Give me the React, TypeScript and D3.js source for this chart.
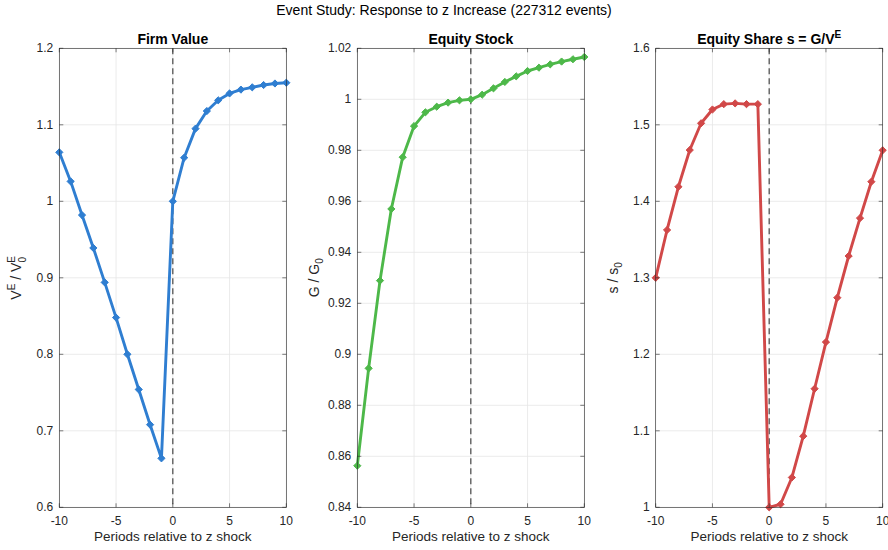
import React from "react";
import * as d3 from "d3";

const periods = d3.range(-10, 11);
const firmValue = [1.064, 1.026, 0.982, 0.939, 0.894, 0.848, 0.800, 0.754, 0.708, 0.664, 1.000, 1.057, 1.095, 1.118, 1.132, 1.141, 1.146, 1.149, 1.152, 1.154, 1.155];
const equityStock = [0.8563, 0.8945, 0.9289, 0.957, 0.9773, 0.9895, 0.9949, 0.9971, 0.9987, 0.9996, 1.000, 1.0018, 1.0043, 1.0068, 1.009, 1.0111, 1.0124, 1.0137, 1.0148, 1.0157, 1.0166];
const equityShare = [1.300, 1.3625, 1.419, 1.467, 1.502, 1.520, 1.527, 1.528, 1.527, 1.527, 1.000, 1.004, 1.039, 1.093, 1.155, 1.216, 1.274, 1.3285, 1.378, 1.4256, 1.4667];

const xTicks = [-10, -5, 0, 5, 10];
const yTicks1 = [0.6, 0.7, 0.8, 0.9, 1, 1.1, 1.2];
const yTicks2 = [0.84, 0.86, 0.88, 0.9, 0.92, 0.94, 0.96, 0.98, 1, 1.02];
const yTicks3 = [1, 1.1, 1.2, 1.3, 1.4, 1.5, 1.6];

const mainTitle = "Event Study: Response to z Increase (227312 events)";
const FONT = "'Liberation Sans', Arial, Helvetica, sans-serif";

type PanelProps = {
  left: number;
  values: number[];
  yDomain: [number, number];
  yTicks: number[];
  color: string;
  title: React.ReactNode;
  ylabel: React.ReactNode;
  fmt: (v: number) => string;
};

const TOP = 48.3;
const BOTTOM = 507.3;
const WIDTH = 227;

function Panel({ left, values, yDomain, yTicks, color, title, ylabel, fmt }: PanelProps) {
  const x = d3.scaleLinear().domain([-10, 10]).range([left, left + WIDTH]);
  const y = d3.scaleLinear().domain(yDomain).range([BOTTOM, TOP]);
  const line = d3.line<number>().x((_, i) => x(periods[i])).y((d) => y(d));
  const axisColor = "#262626";
  const tl = 4;
  return (
    <g>
      <rect x={left} y={TOP} width={WIDTH} height={BOTTOM - TOP} fill="#fff" />
      {xTicks.map((t) => (
        <line key={"gx" + t} x1={x(t)} x2={x(t)} y1={TOP} y2={BOTTOM} stroke="#e6e6e6" strokeWidth={0.8} />
      ))}
      {yTicks.map((t) => (
        <line key={"gy" + t} x1={left} x2={left + WIDTH} y1={y(t)} y2={y(t)} stroke="#e6e6e6" strokeWidth={0.8} />
      ))}
      <line x1={x(0)} x2={x(0)} y1={TOP} y2={BOTTOM} stroke="#555" strokeWidth={1.3} strokeDasharray="6,4" />
      <path d={line(values) || ""} fill="none" stroke={color} strokeWidth={2.9} strokeLinejoin="round" />
      {values.map((v, i) => {
        const cx = x(periods[i]);
        const cy = y(v);
        const r = 3.6;
        return (
          <path
            key={"m" + i}
            d={`M${cx},${cy - r}L${cx + r},${cy}L${cx},${cy + r}L${cx - r},${cy}Z`}
            fill={color}
            stroke={color}
            strokeWidth={1}
          />
        );
      })}
      <rect x={left} y={TOP} width={WIDTH} height={BOTTOM - TOP} fill="none" stroke={axisColor} strokeWidth={0.6} />
      {xTicks.map((t) => (
        <g key={"tx" + t}>
          <line x1={x(t)} x2={x(t)} y1={BOTTOM} y2={BOTTOM - tl} stroke={axisColor} strokeWidth={0.6} />
          <line x1={x(t)} x2={x(t)} y1={TOP} y2={TOP + tl} stroke={axisColor} strokeWidth={0.6} />
          <text x={x(t)} y={BOTTOM + 18} textAnchor="middle" fontSize={12} fill={axisColor} fontFamily={FONT}>
            {t}
          </text>
        </g>
      ))}
      {yTicks.map((t) => (
        <g key={"ty" + t}>
          <line x1={left} x2={left + tl} y1={y(t)} y2={y(t)} stroke={axisColor} strokeWidth={0.6} />
          <line x1={left + WIDTH} x2={left + WIDTH - tl} y1={y(t)} y2={y(t)} stroke={axisColor} strokeWidth={0.6} />
          <text x={left - 6} y={y(t) + 4} textAnchor="end" fontSize={12} fill={axisColor} fontFamily={FONT}>
            {fmt(t)}
          </text>
        </g>
      ))}
      <text x={left + WIDTH / 2} y={44} textAnchor="middle" fontSize={14} fontWeight="bold" fill="#000" fontFamily={FONT}>
        {title}
      </text>
      <text x={left + WIDTH / 2} y={541} textAnchor="middle" fontSize={13.5} fill={axisColor} fontFamily={FONT}>
        Periods relative to z shock
      </text>
      <text
        transform={`translate(${left - 38},${(TOP + BOTTOM) / 2}) rotate(-90)`}
        textAnchor="middle"
        fontSize={14}
        fill={axisColor}
        fontFamily={FONT}
      >
        {ylabel}
      </text>
    </g>
  );
}

const fmtNum = (v: number) => (Number.isInteger(v) ? String(v) : String(+v.toFixed(2)));

export default function App() {
  return (
    <svg width={888} height={550} style={{ position: "absolute", left: 0, top: 0, background: "#fff" }}>
      <rect width={888} height={550} fill="#fff" />
      <text x={444} y={15} textAnchor="middle" fontSize={14} fill="#000" fontFamily={FONT}>
        {mainTitle}
      </text>
      <Panel
        left={59.3}
        values={firmValue}
        yDomain={[0.6, 1.2]}
        yTicks={yTicks1}
        color="#2F7ED1"
        fmt={fmtNum}
        title="Firm Value"
        ylabel={
          <>
            V<tspan dy={-6} fontSize={10}>E</tspan>
            <tspan dy={6}> / V</tspan>
            <tspan dy={-6} fontSize={10}>E</tspan>
            <tspan dx={-6.5} dy={10.5} fontSize={10}>0</tspan>
          </>
        }
      />
      <Panel
        left={357.3}
        values={equityStock}
        yDomain={[0.84, 1.02]}
        yTicks={yTicks2}
        color="#4DB849"
        fmt={fmtNum}
        title="Equity Stock"
        ylabel={
          <>
            G / G<tspan dy={4} fontSize={10}>0</tspan>
          </>
        }
      />
      <Panel
        left={655.7}
        values={equityShare}
        yDomain={[1, 1.6]}
        yTicks={yTicks3}
        color="#D14848"
        fmt={fmtNum}
        title={
          <>
            Equity Share s = G/V<tspan dy={-6} fontSize={10}>E</tspan>
          </>
        }
        ylabel={
          <>
            s / s<tspan dy={4} fontSize={10}>0</tspan>
          </>
        }
      />
    </svg>
  );
}
